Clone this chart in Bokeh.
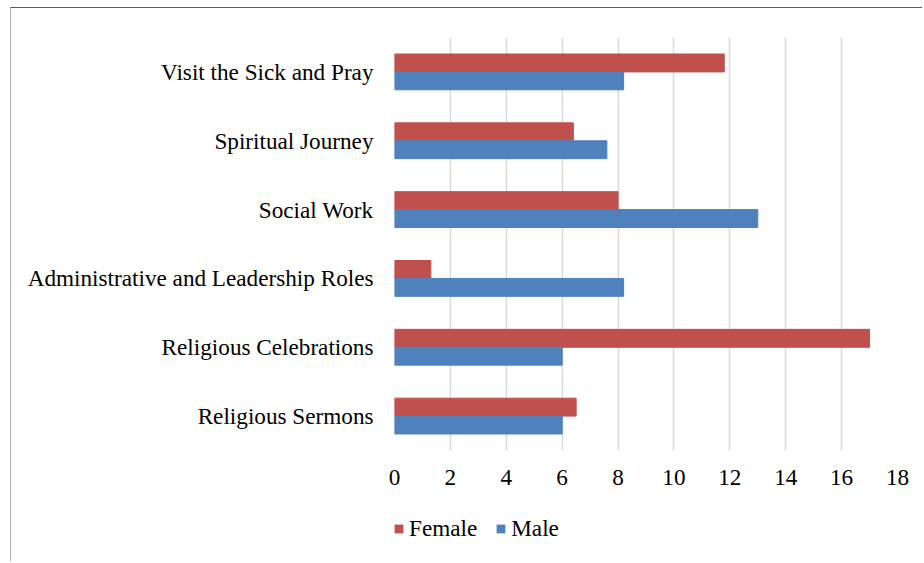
from bokeh.plotting import figure
from bokeh.models import ColumnDataSource, Legend, LegendItem, FactorRange, FixedTicker, Range1d
from bokeh.layouts import column
from bokeh.transform import dodge
from bokeh.embed import file_html
from bokeh.resources import INLINE

categories = ["Visit the Sick and Pray", "Spiritual Journey", "Social Work",
              "Administrative and Leadership Roles", "Religious Celebrations",
              "Religious Sermons"]
female = [11.8, 6.4, 8.0, 1.3, 17.0, 6.5]
male = [8.2, 7.6, 13.0, 8.2, 6.0, 6.0]
x_ticks = [0, 2, 4, 6, 8, 10, 12, 14, 16, 18]

FONT = "Liberation Serif"
FS = "23.2px"
RED = "#C0504D"
BLUE = "#4F81BD"

source = ColumnDataSource(dict(cat=categories, female=female, male=male))

p = figure(width=911, height=497, output_backend="svg", toolbar_location=None,
           y_range=FactorRange(*reversed(categories)), x_range=(0, 18),
           min_border_left=383, min_border_right=25, min_border_top=29,
           min_border_bottom=55)
p.outline_line_color = None

rf = p.hbar(y=dodge("cat", 0.13, range=p.y_range), right="female", left=0, height=0.26,
            source=source, fill_color=RED, line_color=RED)
rm = p.hbar(y=dodge("cat", -0.13, range=p.y_range), right="male", left=0, height=0.26,
            source=source, fill_color=BLUE, line_color=BLUE)

p.xaxis.ticker = FixedTicker(ticks=x_ticks)
p.xgrid.ticker = FixedTicker(ticks=x_ticks)
p.xgrid.grid_line_color = "#d9d9d9"
p.xgrid.grid_line_width = 1.5
p.ygrid.grid_line_color = None

for ax in (p.xaxis, p.yaxis):
    ax.axis_line_color = None
    ax.major_tick_line_color = None
    ax.minor_tick_line_color = None
    ax.major_label_text_font = FONT
    ax.major_label_text_font_size = FS
    ax.major_label_text_color = "#000000"
p.yaxis.major_label_standoff = 15
p.xaxis.major_label_standoff = 13

# legend strip below the chart (its frame is aligned with the chart's frame)
leg = figure(width=911, height=56, output_backend="svg", toolbar_location=None,
             x_range=Range1d(100, 101), y_range=FactorRange(*reversed(categories)),
             x_axis_type=None, y_axis_type=None, min_border=0)
leg.outline_line_color = None
lf = leg.hbar(y="cat", right="female", left=0, height=0, source=source,
              fill_color=RED, line_color=None)
lm = leg.hbar(y="cat", right="male", left=0, height=0, source=source,
              fill_color=BLUE, line_color=None)

legend = Legend(items=[LegendItem(label="Female", renderers=[lf]),
                       LegendItem(label="Male", renderers=[lm])],
                orientation="horizontal", location=(-1, 19),
                label_text_font=FONT, label_text_font_size=FS, label_text_color="#000000",
                glyph_width=11, glyph_height=11, label_standoff=5, spacing=18,
                padding=0, margin=0, border_line_color=None, background_fill_alpha=0)
leg.add_layout(legend, "center")

layout = column(p, leg, spacing=0,
                styles={"margin-left": "10px", "margin-top": "7px",
                        "border-top": "1px solid #5a5a5a",
                        "border-left": "1px solid #b0b0b0"})

open("out.html", "w").write(file_html(layout, INLINE))
